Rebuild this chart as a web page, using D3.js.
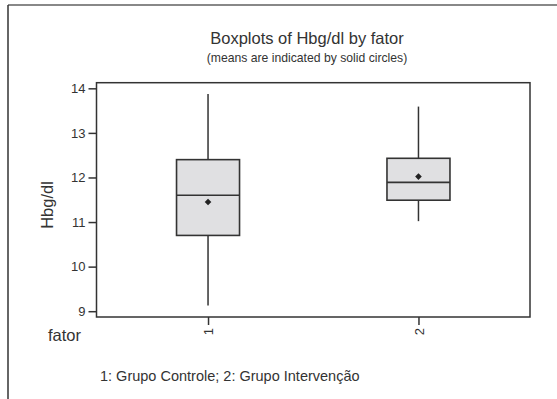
<!DOCTYPE html>
<html lang="en">
<head>
<meta charset="utf-8">
<title>Boxplots of Hbg/dl by fator</title>
<script src="https://d3js.org/d3.v7.min.js"></script>
<style>
body { margin: 0; background: #fff; }
text { font-family: "Liberation Sans", Arial, sans-serif; fill: #333; }
.axis path, .axis line { stroke: #333; stroke-width: 1.5px; }
.axis text { font-size: 13px; fill: #333; }
</style>
</head>
<body>
<svg width="557" height="399"></svg>
<script>

var categories = ["1", "2"];
var whiskerLow = [9.13, 11.02];
var q1 = [10.70, 11.49];
var median = [11.60, 11.89];
var q3 = [12.40, 12.43];
var whiskerHigh = [13.87, 13.59];
var means = [11.45, 12.02];
var yTicks = [9, 10, 11, 12, 13, 14];

var svg = d3.select("svg");

var margin = {top: 82.7, right: 27, bottom: 82, left: 96.5};
var width = 557 - margin.left - margin.right;
var height = 399 - margin.top - margin.bottom;

// page frame (top and left edges)
svg.append("line")
    .attr("x1", 8).attr("x2", 557).attr("y1", 5).attr("y2", 5)
    .attr("stroke", "#888").attr("stroke-width", 2);
svg.append("line")
    .attr("x1", 8).attr("x2", 8).attr("y1", 5).attr("y2", 399)
    .attr("stroke", "#333").attr("stroke-width", 1.5);

var g = svg.append("g").attr("transform", `translate(${margin.left}, ${margin.top})`);

var xScale = d3.scalePoint()
    .domain(categories)
    .range([0, width])
    .padding(0.53);

var yScale = d3.scaleLinear()
    .domain([8.87, 14.126])
    .range([height, 0]);

var boxW = 63;

var data = categories.map((c, i) => ({
  cat: c, lo: whiskerLow[i], q1: q1[i], med: median[i], q3: q3[i], hi: whiskerHigh[i], mean: means[i]
}));

// plot frame
g.append("rect")
    .attr("width", width).attr("height", height)
    .attr("fill", "none").attr("stroke", "#333").attr("stroke-width", 1.5);

var boxes = g.selectAll(".box")
    .data(data)
    .enter().append("g")
    .attr("class", "box")
    .attr("transform", d => `translate(${xScale(d.cat)}, 0)`);

boxes.append("line")
    .attr("y1", d => yScale(d.hi)).attr("y2", d => yScale(d.q3))
    .attr("stroke", "#333").attr("stroke-width", 1.5);
boxes.append("line")
    .attr("y1", d => yScale(d.q1)).attr("y2", d => yScale(d.lo))
    .attr("stroke", "#333").attr("stroke-width", 1.5);

boxes.append("rect")
    .attr("x", -boxW / 2)
    .attr("width", boxW)
    .attr("y", d => yScale(d.q3))
    .attr("height", d => yScale(d.q1) - yScale(d.q3))
    .attr("fill", "#e0e0e2")
    .attr("stroke", "#333").attr("stroke-width", 1.6);

boxes.append("line")
    .attr("x1", -boxW / 2).attr("x2", boxW / 2)
    .attr("y1", d => yScale(d.med)).attr("y2", d => yScale(d.med))
    .attr("stroke", "#333").attr("stroke-width", 1.6);

boxes.append("path")
    .attr("transform", d => `translate(0, ${yScale(d.mean)})`)
    .attr("d", d3.symbol().type(d3.symbolDiamond2).size(28))
    .attr("fill", "#222");

// axes
g.append("g")
    .attr("class", "axis")
    .call(d3.axisLeft(yScale).tickValues(yTicks).tickFormat(d3.format("d")).tickSize(8).tickPadding(3))
    .call(s => s.select(".domain").remove());

var xAxis = g.append("g")
    .attr("class", "axis")
    .attr("transform", `translate(0, ${height})`)
    .call(d3.axisBottom(xScale).tickSize(8).tickPadding(4))
    .call(s => s.select(".domain").remove());

xAxis.selectAll(".tick text")
    .attr("font-size", 12)
    .attr("transform", "rotate(-90)")
    .attr("text-anchor", "end")
    .attr("x", -11)
    .attr("y", 0)
    .attr("dy", "0.35em");

// titles
svg.append("text")
    .attr("x", 307).attr("y", 44)
    .attr("text-anchor", "middle")
    .attr("font-size", 16.5)
    .text("Boxplots of Hbg/dl by fator");

svg.append("text")
    .attr("x", 307).attr("y", 62)
    .attr("text-anchor", "middle")
    .attr("font-size", 12.2)
    .text("(means are indicated by solid circles)");

svg.append("text")
    .attr("transform", "translate(53, 205) rotate(-90)")
    .attr("text-anchor", "middle")
    .attr("font-size", 16.5)
    .text("Hbg/dl");

svg.append("text")
    .attr("x", 48).attr("y", 341)
    .attr("font-size", 16.5)
    .text("fator");

svg.append("text")
    .attr("x", 100).attr("y", 381)
    .attr("font-size", 14.5)
    .text("1: Grupo Controle; 2: Grupo Intervenção");

</script>
</body>
</html>
